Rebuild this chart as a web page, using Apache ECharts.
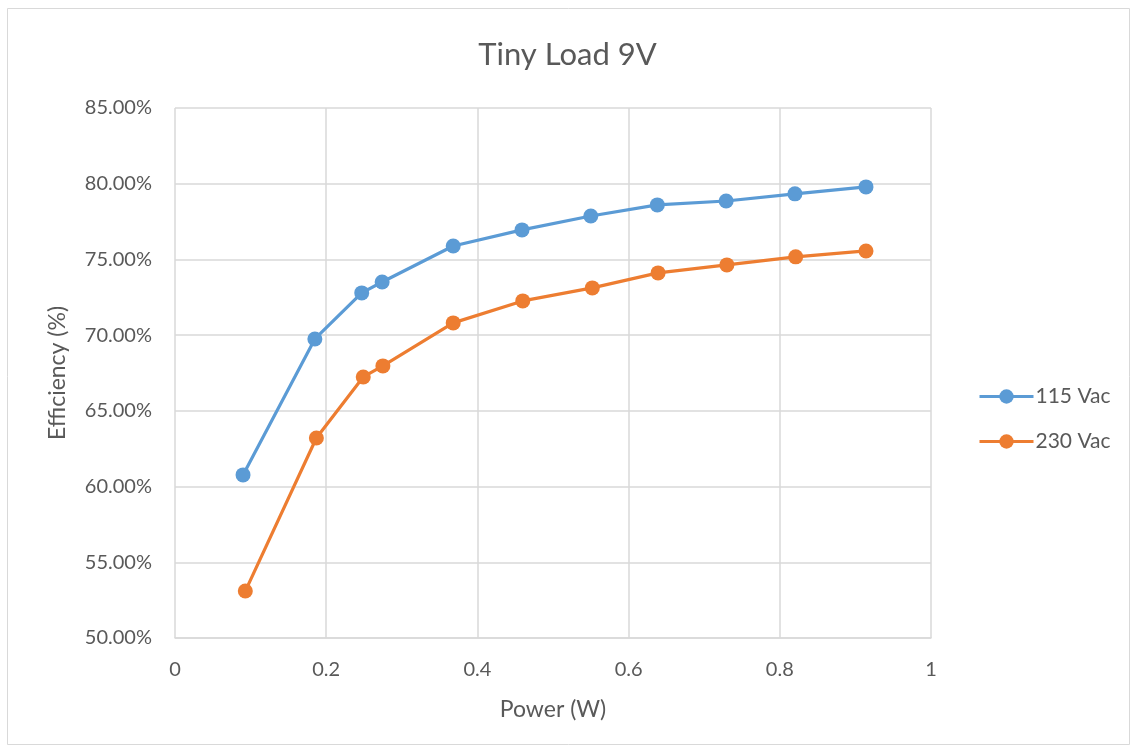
<!DOCTYPE html>
<html>
<head>
<meta charset="utf-8">
<script src="https://cdn.jsdelivr.net/npm/echarts@6/dist/echarts.min.js"></script>
<style>
  html, body { margin: 0; padding: 0; background: #fff; }
  #chart { width: 1135px; height: 750px; }
</style>
</head>
<body>
<div id="chart"></div>
<script>
// Output power (W) and efficiency (%) at the two input voltages
const power115 = [0.090, 0.185, 0.247, 0.274, 0.368, 0.459, 0.550, 0.638, 0.729, 0.820, 0.914];
const eff115   = [60.77, 69.75, 72.79, 73.51, 75.89, 76.95, 77.87, 78.60, 78.86, 79.33, 79.79];
const power230 = [0.093, 0.187, 0.249, 0.275, 0.368, 0.460, 0.552, 0.639, 0.730, 0.821, 0.914];
const eff230   = [53.10, 63.21, 67.24, 67.97, 70.81, 72.26, 73.12, 74.11, 74.64, 75.17, 75.56];
const seriesNames = ['115 Vac', '230 Vac'];
const colors = ['#5b9bd5', '#ed7d31'];

const font = 'Lato, "Open Sans", sans-serif';
const textGray = '#595959';
const gridGray = '#d9d9d9';

const pairs = (xs, ys) => xs.map((x, i) => [x, ys[i]]);

const chart = echarts.init(document.getElementById('chart'));
chart.setOption({
  backgroundColor: '#fff',
  animation: false,
  graphic: [{
    type: 'rect',
    shape: { x: 7.5, y: 8.5, width: 1122, height: 736 },
    style: { fill: 'none', stroke: gridGray, lineWidth: 1 },
    silent: true
  }],
  title: {
    text: 'Tiny Load 9V',
    left: 'center',
    top: 34,
    textStyle: { fontFamily: font, fontSize: 31, fontWeight: 'normal', color: textGray }
  },
  grid: { left: 175, right: 204, top: 108, bottom: 112 },
  legend: {
    orient: 'vertical',
    left: 973,
    top: 381,
    itemGap: 24,
    itemWidth: 54,
    itemHeight: 18,
    lineStyle: { width: 3 },
    textStyle: { fontFamily: font, fontSize: 21, color: textGray, padding: [0, 0, 0, -3] },
    data: seriesNames
  },
  xAxis: {
    type: 'value',
    min: 0, max: 1, interval: 0.2,
    name: 'Power (W)',
    nameLocation: 'middle',
    nameGap: 60,
    nameTextStyle: { fontFamily: font, fontSize: 23, color: textGray },
    axisLine: { show: true, lineStyle: { color: gridGray, width: 1.5 } },
    axisTick: { show: false },
    axisLabel: { fontFamily: font, fontSize: 20, color: textGray, margin: 22 },
    splitLine: { show: true, lineStyle: { color: gridGray, width: 1.5 } }
  },
  yAxis: {
    type: 'value',
    min: 50, max: 85, interval: 5,
    name: 'Efficiency (%)',
    nameLocation: 'middle',
    nameGap: 106,
    nameTextStyle: { fontFamily: font, fontSize: 23, color: textGray },
    axisLine: { show: false },
    axisTick: { show: false },
    axisLabel: {
      fontFamily: font, fontSize: 20, color: textGray, margin: 23,
      formatter: v => v.toFixed(2) + '%'
    },
    splitLine: { show: true, lineStyle: { color: gridGray, width: 1.5 } }
  },
  series: [
    {
      name: seriesNames[0],
      type: 'line',
      data: pairs(power115, eff115),
      symbol: 'circle',
      symbolSize: 15,
      color: colors[0],
      lineStyle: { width: 3.2, color: colors[0] },
      itemStyle: { color: colors[0] }
    },
    {
      name: seriesNames[1],
      type: 'line',
      data: pairs(power230, eff230),
      symbol: 'circle',
      symbolSize: 15,
      color: colors[1],
      lineStyle: { width: 3.2, color: colors[1] },
      itemStyle: { color: colors[1] }
    }
  ]
});
</script>
</body>
</html>
